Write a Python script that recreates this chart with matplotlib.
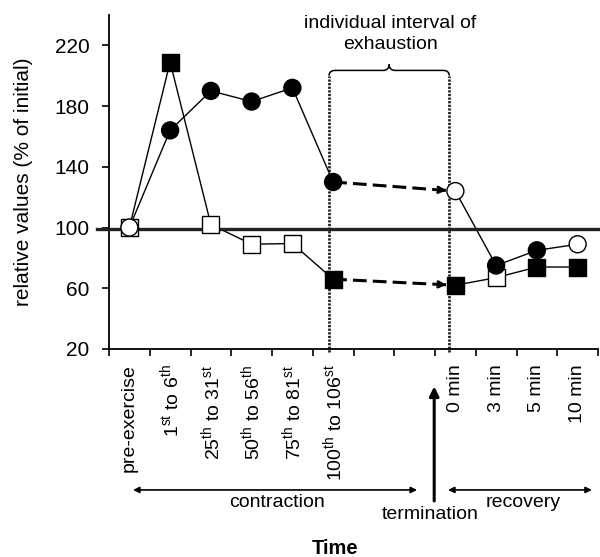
import numpy as np
import matplotlib
matplotlib.use("Agg")
import matplotlib.pyplot as plt
from matplotlib.path import Path
from matplotlib.patches import PathPatch

plt.rcParams['font.family'] = ['Liberation Sans', 'DejaVu Sans']
plt.rcParams['mathtext.fontset'] = 'custom'
plt.rcParams['mathtext.rm'] = 'Liberation Sans'
plt.rcParams['mathtext.it'] = 'Liberation Sans:italic'
plt.rcParams['mathtext.bf'] = 'Liberation Sans:bold'

# categories (two empty slots for the exhaustion interval)
labels = ['pre-exercise', r'1$^{\rm st}$ to 6$^{\rm th}$', r'25$^{\rm th}$ to 31$^{\rm st}$',
          r'50$^{\rm th}$ to 56$^{\rm th}$', r'75$^{\rm th}$ to 81$^{\rm st}$',
          r'100$^{\rm th}$ to 106$^{\rm st}$', '', '', '0 min', '3 min', '5 min', '10 min']

circle_vals = [100, 164, 190, 183, 192, 130, np.nan, np.nan, 124, 75, 85, 89]
circle_filled = [False, True, True, True, True, True, False, False, False, True, True, False]
square_vals = [100, 209, 102, 89, 89.5, 66, np.nan, np.nan, 62, 67, 74, 74]
square_filled = [False, True, False, False, False, True, False, False, True, False, True, True]

baseline = 99
y_ticks = [20, 60, 100, 140, 180, 220]
last_contraction = 5
first_recovery = 8

fig = plt.figure(figsize=(6, 5.57), dpi=100)
ax = fig.add_axes([109/600, 1 - 349/557, 489/600, 334/557])

x = np.arange(len(labels))
cv = np.array(circle_vals, dtype=float)
sv = np.array(square_vals, dtype=float)

# solid connecting lines
ax.plot(x, cv, color='black', lw=1.0, zorder=2)
ax.plot(x, sv, color='black', lw=1.0, zorder=2)

# dashed arrows across the exhaustion interval
for vals in (cv, sv):
    x0, x1 = last_contraction, first_recovery
    y0, y1 = vals[x0], vals[x1]
    xe = x1 - 0.22
    ye = y0 + (y1 - y0) * (xe - x0) / (x1 - x0)
    ax.plot([x0, xe], [y0, ye], color='black', lw=2.2, dashes=(4.5, 2.0), zorder=2)
    xs = xe - 0.15
    ys = y0 + (y1 - y0) * (xs - x0) / (x1 - x0)
    ax.annotate('', xy=(xe, ye), xytext=(xs, ys),
                arrowprops=dict(arrowstyle='->', lw=2.0, color='black',
                                shrinkA=0, shrinkB=0, mutation_scale=10), zorder=3)

# markers (circles drawn over squares)
ax.scatter(x, sv, s=150, marker='s', edgecolors='black', linewidths=1.0,
           facecolors=['black' if f else 'white' for f in square_filled], zorder=4)
ax.scatter(x, cv, s=150, marker='o', edgecolors='black', linewidths=1.0,
           facecolors=['black' if f else 'white' for f in circle_filled], zorder=5)

# 100 % reference line
ax.plot([-0.8, 11.5], [baseline, baseline], color='#222222', lw=2.4, clip_on=False, zorder=3)

# dotted interval lines and brace
xl, xr = 4.9, 7.85
for xv in (xl, xr):
    ax.plot([xv, xv], [18, 200], color='#222222', lw=2.0, dashes=(0.8, 0.5),
            clip_on=False, zorder=1)
xm = (xl + xr) / 2
yb, yh, yt = 200, 203.5, 207.5
verts = [(xl, yb), (xl, yh), (xl + 0.15, yh), (xm - 0.15, yh), (xm, yh), (xm, yt),
         (xm, yh), (xm + 0.15, yh), (xr - 0.15, yh), (xr, yh), (xr, yb)]
codes = [Path.MOVETO, Path.CURVE3, Path.CURVE3, Path.LINETO, Path.CURVE3, Path.CURVE3,
         Path.CURVE3, Path.CURVE3, Path.LINETO, Path.CURVE3, Path.CURVE3]
ax.add_patch(PathPatch(Path(verts, codes), fill=False, lw=1.1, color='black', clip_on=False))
ax.text(6.4, 227.5, 'individual interval of\nexhaustion', ha='center', va='center',
        fontsize=14, linespacing=1.25)

# axes
ax.set_xlim(-0.5, 11.5)
ax.set_ylim(20, 240)
ax.set_yticks(y_ticks)
ax.tick_params(axis='y', labelsize=15, length=5, width=1.2, pad=9)
ax.set_xticks(np.arange(-0.5, 12, 1))
ax.set_xticklabels([])
ax.set_xticks(x, minor=True)
ax.set_xticklabels(labels, minor=True, rotation=90, fontsize=14)
ax.tick_params(axis='x', which='major', length=5, width=1.2)
ax.tick_params(axis='x', which='minor', length=0, pad=11)
for s in ('top', 'right'):
    ax.spines[s].set_visible(False)
for s in ('left', 'bottom'):
    ax.spines[s].set_linewidth(1.3)

ax.set_ylabel('relative values (% of initial)', fontsize=15)
ax.yaxis.set_label_coords(-0.155, 0.5)
ax.set_xlabel('Time', fontsize=14.5, fontweight='bold')
ax.xaxis.set_label_coords(0.462, -0.568)

# phase arrows below the axis
tr = ax.get_xaxis_transform()
ax.annotate('', xy=(7.06, -0.422), xytext=(0.09, -0.422), xycoords=tr, textcoords=tr,
            arrowprops=dict(arrowstyle='<|-|>', lw=1.2, color='black', mutation_scale=9,
                            shrinkA=0, shrinkB=0))
ax.annotate('', xy=(11.35, -0.422), xytext=(7.82, -0.422), xycoords=tr, textcoords=tr,
            arrowprops=dict(arrowstyle='<|-|>', lw=1.2, color='black', mutation_scale=9,
                            shrinkA=0, shrinkB=0))
ax.annotate('', xy=(7.48, -0.112), xytext=(7.48, -0.455), xycoords=tr, textcoords=tr,
            arrowprops=dict(arrowstyle='-|>', lw=2.2, color='black', mutation_scale=14,
                            shrinkA=0, shrinkB=0))
ax.text(3.62, -0.461, 'contraction', transform=tr, ha='center', va='center', fontsize=14)
ax.text(7.38, -0.497, 'termination', transform=tr, ha='center', va='center', fontsize=14)
ax.text(9.66, -0.461, 'recovery', transform=tr, ha='center', va='center', fontsize=14)

fig.savefig('out.png', dpi=100)
